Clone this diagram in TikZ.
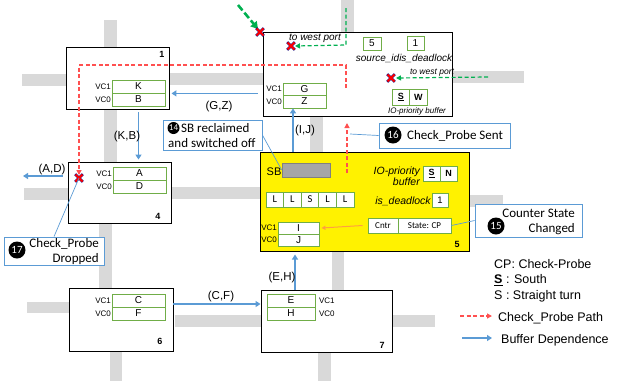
\documentclass[tikz,border=0pt]{standalone}
\usepackage{fontspec}
\setmainfont{Liberation Sans}
\newfontfamily\calfont{Carlito}
\usetikzlibrary{arrows.meta}
\definecolor{gbar}{HTML}{D9D9D9}
\definecolor{vcgreen}{HTML}{70AD47}
\definecolor{depblue}{HTML}{5B9BD5}
\definecolor{probered}{HTML}{FF5050}
\definecolor{ggreen}{HTML}{00B050}
\definecolor{orng}{HTML}{FFA040}
\definecolor{sbgray}{HTML}{A6A6A6}
\tikzset{
 bar/.style={fill=gbar, draw=none},
 router/.style={draw=black, line width=0.9pt, fill=white, inner sep=0pt},
 vcbox/.style={draw=vcgreen, line width=0.8pt, fill=white, inner sep=0pt, font=\fontsize{10}{12}\selectfont},
 vclab/.style={inner sep=0.5pt, font=\fontsize{8}{9}\selectfont},
 dep/.style={draw=depblue, line width=1.6pt, -{Triangle[length=5pt,width=6pt]}},
 probe/.style={draw=probered, line width=1.2pt, dash pattern=on 4pt off 2.5pt, -{Triangle[length=5pt,width=5pt]}},
 gprobe/.style={draw=ggreen, line width=1.2pt, dash pattern=on 4pt off 2.5pt, -{Triangle[length=5pt,width=5pt]}},
 deplabel/.style={font=\fontsize{11.5}{13}\selectfont, inner sep=0pt},
 rnum/.style={font=\bfseries\fontsize{9}{10}\selectfont, inner sep=0pt},
 callout/.style={draw=depblue, line width=0.8pt, fill=white, inner sep=0pt},
 cnum/.style={circle, fill=black, text=white, inner sep=0pt, minimum size=17pt, font=\calfont\fontsize{11}{12}\selectfont},
 ctext/.style={font=\calfont\fontsize{13}{15}\selectfont, inner sep=0pt},
 itlab/.style={font=\itshape\fontsize{10}{12}\selectfont, inner sep=0pt},
 smallbox/.style={draw=vcgreen, line width=0.8pt, fill=white, inner sep=0pt},
 cline/.style={draw=depblue, line width=0.7pt},
 legtext/.style={font=\fontsize{12.5}{14}\selectfont, inner sep=0pt, anchor=west},
 xmark/.pic={
   \draw[blue!50!black, line width=2.8pt] (-3.8,-3.8)--(3.8,3.8) (-3.8,3.8)--(3.8,-3.8);
   \draw[red, line width=2pt] (-3.5,-3.5)--(3.5,3.5) (-3.5,3.5)--(3.5,-3.5);
 }
}
\begin{document}
\begin{tikzpicture}[x=1pt,y=-1pt]
\useasboundingbox (0,0) rectangle (629,381);
% grid bars
\fill[bar] (104,20) rectangle (117,47);
\fill[bar] (104,109) rectangle (117,162);
\fill[bar] (99,223) rectangle (112,288);
\fill[bar] (110,351) rectangle (122,381);
\fill[bar] (341,0) rectangle (354,32);
\fill[bar] (310,116) rectangle (323,152);
\fill[bar] (332,251) rectangle (344,290);
\fill[bar] (318,352) rectangle (331,381);
\fill[bar] (22,74) rectangle (66,86);
\fill[bar] (169,73) rectangle (263,85);
\fill[bar] (452,71) rectangle (524,83);
\fill[bar] (24,188) rectangle (68,200);
\fill[bar] (171,187) rectangle (260,199);
\fill[bar] (469,195) rectangle (503,207);
\fill[bar] (27,302) rectangle (69,313);
\fill[bar] (175,315) rectangle (261,327);
\fill[bar] (392,315) rectangle (435,327);

% routers
\node[router, minimum width=103pt, minimum height=62pt] (r1) at (117.5,78) {};
\node[router, minimum width=189pt, minimum height=84pt] (r2) at (357.5,74) {};
\node[router, minimum width=103pt, minimum height=61pt] (r4) at (119.5,192.5) {};
\node[router, fill=yellow, line width=1pt, minimum width=209pt, minimum height=99pt] (r5) at (364.5,201.5) {};
\node[router, minimum width=104pt, minimum height=63pt] (r6) at (121,319.5) {};
\node[router, minimum width=131pt, minimum height=62pt] (r7) at (326.5,321) {};

\node[rnum] at (162,54) {1};
\node[rnum] at (158,216) {4};
\node[rnum] at (457,244) {5};
\node[rnum] at (160,341) {6};
\node[rnum] at (382,345) {7};

% VC buffers
\node[vcbox, minimum width=53pt, minimum height=13pt] (K) at (138.5,86.5) {K};
\node[vcbox, minimum width=53pt, minimum height=13pt] (B) at (138.5,99.5) {B};
\node[vclab, anchor=east] at (K.west) {VC1};
\node[vclab, anchor=east] at (B.west) {VC0};
\node[vcbox, minimum width=43pt, minimum height=12pt] (G) at (304.5,89) {G};
\node[vcbox, minimum width=43pt, minimum height=13pt] (Z) at (304.5,101.5) {Z};
\node[vclab, anchor=east] at (G.west) {VC1};
\node[vclab, anchor=east] at (Z.west) {VC0};
\node[vcbox, minimum width=53pt, minimum height=13pt] (A) at (139.5,173.5) {A};
\node[vcbox, minimum width=53pt, minimum height=13pt] (D) at (139.5,186.5) {D};
\node[vclab, anchor=east] at (A.west) {VC1};
\node[vclab, anchor=east] at (D.west) {VC0};
\node[vcbox, minimum width=41pt, minimum height=12pt] (I) at (298.5,228) {I};
\node[vcbox, minimum width=41pt, minimum height=12pt] (J) at (298.5,240) {J};
\node[vclab, anchor=east] at (I.west) {VC1};
\node[vclab, anchor=east] at (J.west) {VC0};
\node[vcbox, minimum width=53pt, minimum height=13pt] (C) at (138.5,300.5) {C};
\node[vcbox, minimum width=53pt, minimum height=13pt] (F) at (138.5,313.5) {F};
\node[vclab, anchor=east] at (C.west) {VC1};
\node[vclab, anchor=east] at (F.west) {VC0};
\node[vcbox, minimum width=48pt, minimum height=13pt] (E) at (291,300.5) {E};
\node[vcbox, minimum width=48pt, minimum height=13pt] (H) at (291,313.5) {H};
\node[vclab, anchor=west] at ([xshift=3pt]E.east) {VC1};
\node[vclab, anchor=west] at ([xshift=3pt]H.east) {VC0};

% top router contents
\node[smallbox, minimum width=18pt, minimum height=13pt, font=\fontsize{10}{12}\selectfont] (s5) at (372,43.5) {5};
\node[smallbox, minimum width=17pt, minimum height=14pt, font=\fontsize{10}{12}\selectfont] (s1) at (415.5,43) {1};
\node[itlab] at (404,58) {source\_idis\_deadlock};
\node[itlab] (twp1) at (315,38) {to west port};
\node[itlab, font=\itshape\fontsize{8.5}{10}\selectfont] (twp2) at (432,73) {to west port};
\node[smallbox, minimum width=17.5pt, minimum height=16pt, font=\bfseries\fontsize{9}{10}\selectfont] (sS) at (400.75,97) {\underline{S}};
\node[smallbox, minimum width=17.5pt, minimum height=16pt, font=\bfseries\fontsize{9}{10}\selectfont] (sW) at (418.25,97) {W};
\node[itlab, font=\itshape\fontsize{8}{9}\selectfont] at (417,111) {IO-priority buffer};

% yellow router contents
\node[inner sep=0pt, font=\fontsize{11}{12}\selectfont] at (274,172) {SB};
\node[draw=gray, fill=sbgray, line width=0.6pt, minimum width=48pt, minimum height=14pt, inner sep=0pt] (sb) at (306,170) {};
\foreach \i/\t in {1/L,2/L,3/S,4/L,5/L}{
  \node[smallbox, minimum width=17.6pt, minimum height=15pt, font=\calfont\fontsize{10.5}{12}\selectfont] (l\i) at ({266+17.6*(\i-0.5)},199.5) {\t};
}
\node[itlab, font=\itshape\fontsize{10.5}{12}\selectfont, align=right, anchor=east] at (420,176) {IO-priority\\[-1pt]buffer};
\node[smallbox, minimum width=17pt, minimum height=15pt, font=\bfseries\fontsize{9}{10}\selectfont] (yS) at (431.5,173.5) {\underline{S}};
\node[smallbox, minimum width=17pt, minimum height=15pt, font=\bfseries\fontsize{9}{10}\selectfont] (yN) at (448.5,173.5) {N};
\node[itlab, font=\itshape\fontsize{10.5}{12}\selectfont] at (403,201) {is\_deadlock};
\node[smallbox, minimum width=16pt, minimum height=14pt, font=\fontsize{9.5}{11}\selectfont] (dl) at (440,200) {1};
\node[smallbox, minimum width=30pt, minimum height=15pt, font=\calfont\fontsize{9}{10}\selectfont] (cntr) at (383,225.5) {Cntr};
\node[smallbox, minimum width=53pt, minimum height=15pt, font=\calfont\fontsize{9}{10}\selectfont] (cp) at (424.5,225.5) {State: CP};

% buffer dependence arrows
\draw[dep] ([xshift=-5pt]r2.west |- K.south) -- ([xshift=2pt]r1.east |- K.south);
\node[deplabel] at (219,107) {(G,Z)};
\draw[dep] ([yshift=-3pt]r1.south -| B.south) -- ([yshift=2pt]r4.north -| B.south);
\node[deplabel] at (127,137) {(K,B)};
\coordinate (adend) at (23,176);
\draw[dep] ([xshift=-5pt]r4.west |- adend) -- (adend);
\node[deplabel] at (52,170) {(A,D)};
\draw[dep] (r5.north -| 293,0) -- (Z.south -| 293,0);
\node[deplabel] at (305,131) {(I,J)};
\draw[dep] (r7.north -| 295,0) -- ([yshift=-3pt]r5.south -| 295,0);
\node[deplabel] at (282,278) {(E,H)};
\draw[dep] (r6.east |- 0,304) -- (r7.west |- 0,304);
\node[deplabel] at (221,297) {(C,F)};
\draw[orng, line width=1pt, -{Triangle[length=4pt,width=4pt]}] ([xshift=-5pt]cntr.west) -- ([xshift=2pt]I.east);

% check probe path
\coordinate (x4) at (79,178);
\coordinate (pstart) at (346,88);
\draw[probe] (pstart) -- (346,65) -- (79,65) -- ([yshift=3pt]x4);
\coordinate (pys) at (347,173);
\coordinate (pye) at (347,123);
\draw[probe] (pys) -- (pye);

% green probes
\coordinate (xc) at (260,32);
\coordinate (x2a) at (291,46);
\coordinate (x2b) at (391,78);
\coordinate (g1s) at (238,5);
\draw[ggreen, line width=2.6pt, dash pattern=on 7pt off 3pt, -{Triangle[length=7pt,width=8pt]}] (g1s) -- ([xshift=-2pt,yshift=3pt]xc);
\coordinate (g2s) at (346,8);
\draw[gprobe] (g2s) -- (346,45) -- ([xshift=4pt]x2a);
\coordinate (g3s) at (488,77);
\draw[gprobe] (g3s) -- ([xshift=5pt]x2b);

\pic at (xc) {xmark};
\pic at (x2a) {xmark};
\pic at (x2b) {xmark};
\pic at (x4) {xmark};

% callouts
\node[callout, minimum width=99pt, minimum height=30pt] (c14) at (212.5,135) {};
\node[cnum, minimum size=12pt, font=\calfont\fontsize{9}{10}\selectfont] (n14) at (173.5,128) {14};
\node[ctext, anchor=west] at (181,128) {SB reclaimed};
\node[ctext, anchor=west] at (168,143) {and switched off};
\draw[cline] (c14.east) -- (sb.west);

\node[callout, minimum width=131pt, minimum height=25pt] (c16) at (444.5,135.5) {};
\node[cnum] (n16) at (393,135) {16};
\node[ctext, anchor=west] at (407,136) {Check\_Probe Sent};
\coordinate (p16) at (350,134);
\draw[cline] (c16.west) -- (p16);

\node[callout, minimum width=107pt, minimum height=33pt] (c15) at (528.5,220.5) {};
\node[cnum] (n15) at (496,226) {15};
\node[ctext, anchor=east] at (575,213) {Counter State};
\node[ctext, anchor=east] at (575,229) {Changed};
\draw[cline] (cp.east) -- (c15.west);

\node[callout, minimum width=100pt, minimum height=28pt] (c17) at (54,251) {};
\node[cnum] (n17) at (17,250) {17};
\node[ctext, anchor=east] at (99,244) {Check\_Probe};
\node[ctext, anchor=east] at (99,259) {Dropped};
\draw[cline] (x4) -- (c17.north);

% legend
\node[legtext] at (494,264) {CP: Check-Probe};
\node[legtext] at (494,280) {\textbf{\underline{S}} : South};
\node[legtext] at (494,296) {S : Straight turn};
\coordinate (lp1) at (460,316);
\coordinate (lp2) at (492,316);
\draw[probe] (lp1) -- (lp2);
\node[legtext] at (498,318) {Check\_Probe Path};
\coordinate (lb1) at (462,338);
\coordinate (lb2) at (492,338);
\draw[dep] (lb1) -- (lb2);
\node[legtext] at (501,340) {Buffer Dependence};
\end{tikzpicture}
\end{document}
